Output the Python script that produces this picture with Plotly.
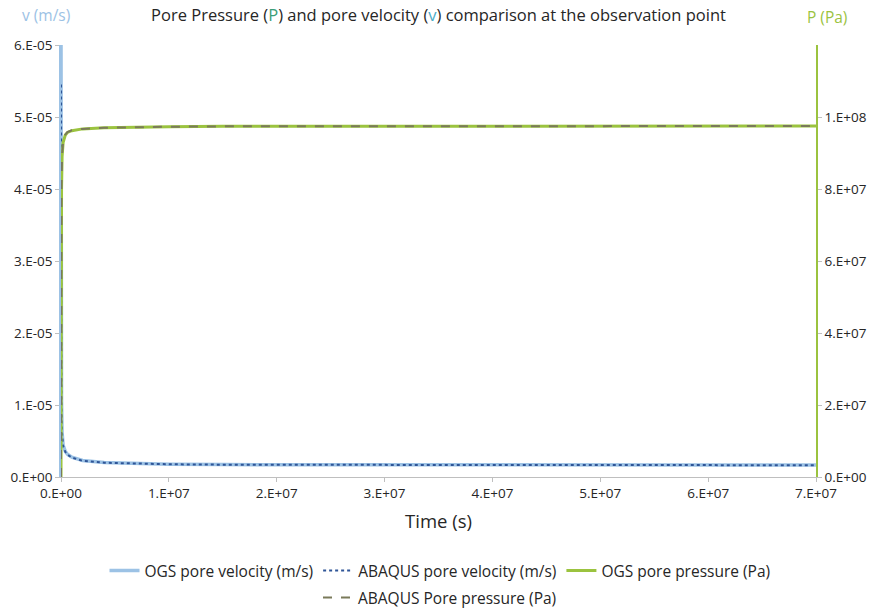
import plotly.graph_objects as go

# time axis samples (s)
time_s = [0, 1e4, 5e4, 1e5, 2e5, 4e5, 6e5, 1e6, 2e6, 4e6, 7e6, 1e7, 1.5e7, 2e7, 3e7, 4e7, 5e7, 6e7, 7e7]

# pore velocity (m/s)
ogs_velocity = [6.3e-5, 2.6e-5, 1.05e-5, 6.2e-6, 4.4e-6, 3.55e-6, 3.15e-6, 2.75e-6, 2.3e-6, 2.0e-6, 1.85e-6,
                1.78e-6, 1.72e-6, 1.7e-6, 1.68e-6, 1.67e-6, 1.66e-6, 1.66e-6, 1.65e-6]
abaqus_velocity = [5.45e-5, 2.5e-5, 1.0e-5, 6.0e-6, 4.3e-6, 3.5e-6, 3.1e-6, 2.7e-6, 2.25e-6, 1.98e-6, 1.84e-6,
                   1.77e-6, 1.71e-6, 1.69e-6, 1.67e-6, 1.66e-6, 1.65e-6, 1.65e-6, 1.64e-6]

# pore pressure (Pa)
ogs_pressure = [0, 4.0e7, 8.0e7, 8.9e7, 9.3e7, 9.5e7, 9.57e7, 9.62e7, 9.67e7, 9.7e7, 9.72e7,
                9.73e7, 9.74e7, 9.74e7, 9.75e7, 9.75e7, 9.75e7, 9.75e7, 9.75e7]
abaqus_pressure = [0, 4.1e7, 8.1e7, 8.95e7, 9.32e7, 9.51e7, 9.58e7, 9.63e7, 9.67e7, 9.7e7, 9.72e7,
                   9.73e7, 9.74e7, 9.74e7, 9.75e7, 9.75e7, 9.75e7, 9.75e7, 9.75e7]

# axis ticks
x_ticks = [0, 1e7, 2e7, 3e7, 4e7, 5e7, 6e7, 7e7]
x_tick_text = ["0.E+00", "1.E+07", "2.E+07", "3.E+07", "4.E+07", "5.E+07", "6.E+07", "7.E+07"]
v_ticks = [0, 1e-5, 2e-5, 3e-5, 4e-5, 5e-5, 6e-5]
v_tick_text = ["0.E+00", "1.E-05", "2.E-05", "3.E-05", "4.E-05", "5.E-05", "6.E-05"]
p_ticks = [0, 2e7, 4e7, 6e7, 8e7, 1e8]
p_tick_text = ["0.E+00", "2.E+07", "4.E+07", "6.E+07", "8.E+07", "1.E+08"]

FONT = "Open Sans"
TEXT = "#262626"
LIGHT_BLUE = "#9cc2e5"
DARK_BLUE = "#2f5597"
GREEN = "#9bc33f"
GREY = "#7a7a5a"

W, H = 880, 612
L, R, T, B = 61, 64, 45, 135

fig = go.Figure()
fig.add_trace(go.Scatter(x=time_s, y=ogs_velocity, mode="lines", name="OGS pore velocity (m/s)",
                         line=dict(color=LIGHT_BLUE, width=3.5), legend="legend"))
fig.add_trace(go.Scatter(x=time_s, y=abaqus_velocity, mode="lines", name="ABAQUS pore velocity (m/s)",
                         line=dict(color=DARK_BLUE, width=2, dash="dot"), legend="legend"))
fig.add_trace(go.Scatter(x=time_s, y=ogs_pressure, mode="lines", name="OGS pore pressure (Pa)",
                         line=dict(color=GREEN, width=3), yaxis="y2", legend="legend"))
fig.add_trace(go.Scatter(x=time_s, y=abaqus_pressure, mode="lines", name="ABAQUS Pore pressure (Pa)",
                         line=dict(color=GREY, width=2, dash="dash"), yaxis="y2", legend="legend2"))

tick_font = dict(size=13.5, color=TEXT)
legend_font = dict(size=15.5, color=TEXT)

fig.update_layout(
    width=W, height=H,
    margin=dict(l=L, r=R, t=T, b=B),
    plot_bgcolor="white", paper_bgcolor="white",
    font=dict(family=FONT, color=TEXT),
    title=dict(
        text="Pore Pressure (<span style='color:#3a9e78'>P</span>) and pore velocity "
             "(<span style='color:#4bacc6'>v</span>) comparison at the observation point",
        x=0.5, xref="paper", y=1 - 15 / H, yanchor="middle",
        font=dict(family=FONT, size=16.5, color=TEXT),
    ),
    xaxis=dict(
        range=[0, 7e7], tickvals=x_ticks, ticktext=x_tick_text,
        showline=True, linecolor="#bfbfbf", linewidth=1,
        ticks="outside", ticklen=4, tickcolor="#bfbfbf",
        showgrid=False, zeroline=False,
        tickfont=tick_font,
        title=dict(text="Time (s)", font=dict(size=18.5, color=TEXT), standoff=13),
    ),
    yaxis=dict(
        range=[0, 6e-5], tickvals=v_ticks, ticktext=v_tick_text,
        showline=True, linecolor=LIGHT_BLUE, linewidth=1.5,
        ticks="outside", ticklen=4, tickcolor="#bfbfbf",
        showgrid=False, zeroline=False,
        tickfont=tick_font,
    ),
    yaxis2=dict(
        range=[0, 1.2e8], tickvals=p_ticks, ticktext=p_tick_text,
        overlaying="y", side="right",
        showline=True, linecolor=GREEN, linewidth=1.5,
        ticks="outside", ticklen=4, tickcolor="#bfbfbf",
        showgrid=False, zeroline=False,
        tickfont=tick_font,
    ),
    legend=dict(
        orientation="h", x=0.5, xanchor="center", xref="container",
        y=1 - 571 / H, yref="container", yanchor="middle",
        font=legend_font, bgcolor="rgba(0,0,0,0)",
    ),
    legend2=dict(
        orientation="h", x=0.5, xanchor="center", xref="container",
        y=1 - 598 / H, yref="container", yanchor="middle",
        font=legend_font, bgcolor="rgba(0,0,0,0)",
    ),
)

# axis-name labels above each y axis, positioned in pixels
plot_w = W - L - R
plot_h = H - T - B
for label, px, py, color in [("v (m/s)", 46, 15, LIGHT_BLUE), ("P (Pa)", 827, 17, GREEN)]:
    fig.add_annotation(text=label, x=(px - L) / plot_w, y=(H - py - B) / plot_h,
                       xref="paper", yref="paper", xanchor="center", yanchor="middle",
                       showarrow=False, font=dict(size=15.5, color=color, family=FONT))

fig.write_html("out.html")
